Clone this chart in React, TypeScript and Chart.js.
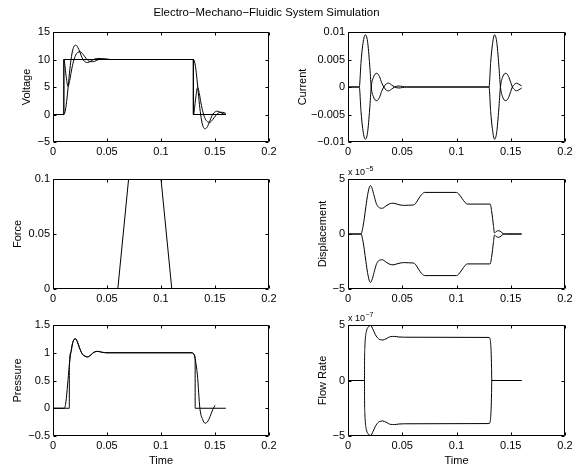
import React, { useEffect, useRef } from "react";
import { Chart, registerables } from "chart.js";

Chart.register(...registerables);

const FONT_FAMILY = '"Liberation Sans", Arial, Helvetica, sans-serif';

const figureTitle = "Electro\u2212Mechano\u2212Fluidic System Simulation";

// ---------- shared time axis ----------
const timeTicks = [0, 0.05, 0.1, 0.15, 0.2];
const timeTickLabels = ["0", "0.05", "0.1", "0.15", "0.2"];

// ---------- Voltage ----------
const voltageTicks = [-5, 0, 5, 10, 15];
const voltageTickLabels = ["\u22125", "0", "5", "10", "15"];
const voltageSourceT = [0, 0.01, 0.01, 0.13, 0.13, 0.16];
const voltageSource = [0, 0, 10, 10, 0, 0];
const voltageCapT = [0, 0.01, 0.0115, 0.013, 0.0145, 0.016, 0.0175, 0.019, 0.021, 0.023, 0.025, 0.027, 0.029, 0.032, 0.035, 0.038, 0.0425, 0.047, 0.052, 0.13, 0.1315, 0.133, 0.1345, 0.136, 0.1375, 0.139, 0.141, 0.143, 0.145, 0.147, 0.149, 0.152, 0.155, 0.158, 0.16];
const voltageCap = [0, 0, 0.8, 3.0, 6.0, 8.9, 11.0, 12.2, 12.6, 12.2, 11.3, 10.3, 9.7, 9.45, 9.7, 10.05, 10.2, 10.05, 10, 10, 9.2, 7.0, 4.0, 1.1, -1.0, -2.2, -2.6, -2.2, -1.3, -0.3, 0.3, 0.6, 0.4, 0.1, 0];
const voltageNodeT = [0, 0.01, 0.0101, 0.012, 0.0139, 0.0155, 0.017, 0.019, 0.021, 0.023, 0.0253, 0.028, 0.031, 0.034, 0.0368, 0.04, 0.044, 0.048, 0.053, 0.13, 0.1301, 0.132, 0.1339, 0.1355, 0.137, 0.139, 0.141, 0.143, 0.1453, 0.148, 0.151, 0.154, 0.1568, 0.16];
const voltageNode = [0, 0, 10, 7.2, 5.1, 6.2, 7.9, 9.7, 10.8, 11.3, 11.4, 10.9, 10.1, 9.65, 9.6, 9.8, 10.1, 10.12, 10, 10, 0, 2.8, 4.9, 3.8, 2.1, 0.3, -0.8, -1.3, -1.4, -0.9, -0.1, 0.35, 0.4, 0.2];

// ---------- Current ----------
const currentTicks = [-0.01, -0.005, 0, 0.005, 0.01];
const currentTickLabels = ["\u22120.01", "\u22120.005", "0", "0.005", "0.01"];
const currentT = [0, 0.0104, 0.012, 0.0135, 0.0159, 0.018, 0.02, 0.0214, 0.0235, 0.0265, 0.029, 0.031, 0.033, 0.0355, 0.0375, 0.04, 0.043, 0.047, 0.05, 0.054, 0.13, 0.1315, 0.133, 0.135, 0.137, 0.139, 0.1405, 0.1425, 0.1455, 0.148, 0.15, 0.1515, 0.1535, 0.1555, 0.1575, 0.16];
const currentUpper = [0, 0, 0.0045, 0.0075, 0.0095, 0.0083, 0.004, 0, -0.0018, -0.0025, -0.0019, -0.0008, 0, 0.0006, 0.0007, 0.0004, 0, -0.00018, -0.0001, 0, 0, 0.0045, 0.0075, 0.0095, 0.0083, 0.004, 0, -0.0018, -0.0025, -0.0019, -0.0008, 0, 0.0005, 0.0007, 0.0005, 0.0002];
const currentLower = [0, 0, -0.0045, -0.0075, -0.0095, -0.0083, -0.004, 0, 0.0018, 0.0025, 0.0019, 0.0008, 0, -0.0006, -0.0007, -0.0004, 0, 0.00018, 0.0001, 0, 0, -0.0045, -0.0075, -0.0095, -0.0083, -0.004, 0, 0.0018, 0.0025, 0.0019, 0.0008, 0, -0.0005, -0.0007, -0.0005, -0.0002];

// ---------- Force ----------
const forceTicks = [0, 0.05, 0.1];
const forceTickLabels = ["0", "0.05", "0.1"];
const forceT = [0, 0.06, 0.07, 0.1, 0.11, 0.16];
const force = [0, 0, 0.1, 0.1, 0, 0];

// ---------- Displacement (values in units of 1e-5) ----------
const displacementUnit = 1e-5;
const displacementTicks = [-5e-5, 0, 5e-5];
const displacementTickLabels = ["\u22125", "0", "5"];
const displacementT = [0, 0.012, 0.0135, 0.015, 0.0165, 0.018, 0.0195, 0.0206, 0.022, 0.024, 0.026, 0.028, 0.0316, 0.035, 0.0385, 0.0416, 0.045, 0.048, 0.052, 0.056, 0.0603, 0.0625, 0.065, 0.068, 0.0706, 0.1, 0.102, 0.105, 0.108, 0.11, 0.131, 0.1325, 0.134, 0.135, 0.137, 0.139, 0.141, 0.143, 0.146, 0.16];
const displacementUpper = [0, 0, 0.5, 1.4, 2.5, 3.5, 4.2, 4.4, 4.2, 3.5, 2.8, 2.45, 2.34, 2.55, 2.75, 2.8, 2.72, 2.64, 2.6, 2.62, 2.64, 2.8, 3.2, 3.6, 3.78, 3.78, 3.65, 3.25, 2.85, 2.72, 2.72, 2.0, 0.8, 0.1, 0.25, 0.3, 0.2, 0.03, 0, 0];
const displacementLower = [0, 0, -0.5, -1.4, -2.5, -3.5, -4.2, -4.4, -4.2, -3.5, -2.8, -2.45, -2.34, -2.55, -2.75, -2.8, -2.72, -2.64, -2.6, -2.62, -2.64, -2.8, -3.2, -3.6, -3.78, -3.78, -3.65, -3.25, -2.85, -2.72, -2.72, -2.0, -0.8, -0.1, -0.25, -0.3, -0.2, -0.03, 0, 0];

// ---------- Pressure ----------
const pressureTicks = [-0.5, 0, 0.5, 1, 1.5];
const pressureTickLabels = ["\u22120.5", "0", "0.5", "1", "1.5"];
const pressureT = [0, 0.0105, 0.012, 0.0135, 0.015, 0.0165, 0.018, 0.0195, 0.021, 0.0225, 0.0245, 0.027, 0.0295, 0.032, 0.035, 0.038, 0.0415, 0.045, 0.05, 0.129, 0.1305, 0.132, 0.1337, 0.136, 0.1385, 0.141, 0.1435, 0.146, 0.148, 0.15];
const pressure = [0, 0, 0.12, 0.42, 0.75, 1.0, 1.16, 1.24, 1.25, 1.2, 1.09, 0.98, 0.94, 0.925, 0.96, 1.01, 1.025, 1.01, 1.0, 1.0, 0.97, 0.85, 0.6, 0.0, -0.2, -0.27, -0.23, -0.12, -0.02, 0.05];
const pressureValveT = [0, 0.0151, 0.01515, 0.0165, 0.018, 0.0195, 0.021, 0.0225, 0.0245, 0.027, 0.0295, 0.032, 0.035, 0.038, 0.0415, 0.045, 0.05, 0.129, 0.1305, 0.1316, 0.13165, 0.16];
const pressureValve = [0, 0, 0.77, 1.0, 1.16, 1.24, 1.25, 1.2, 1.09, 0.98, 0.94, 0.925, 0.96, 1.01, 1.025, 1.01, 1.0, 1.0, 0.97, 0.9, 0, 0];

// ---------- Flow rate (values in units of 1e-7) ----------
const flowUnit = 1e-7;
const flowTicks = [-5e-7, 0, 5e-7];
const flowTickLabels = ["\u22125", "0", "5"];
const flowT = [0, 0.0152, 0.01525, 0.0155, 0.016, 0.017, 0.0185, 0.021, 0.023, 0.026, 0.029, 0.032, 0.035, 0.039, 0.043, 0.047, 0.052, 0.13, 0.1312, 0.1319, 0.1323, 0.1325, 0.16];
const flowUpper = [0, 0, 1.6, 2.9, 3.8, 4.45, 4.8, 4.95, 4.6, 4.0, 3.7, 3.65, 3.75, 3.95, 3.97, 3.92, 3.9, 3.88, 3.6, 2.6, 1.2, 0, 0];
const flowLower = [0, 0, -1.6, -2.9, -3.8, -4.45, -4.8, -4.95, -4.6, -4.0, -3.7, -3.65, -3.75, -3.95, -3.97, -3.92, -3.9, -3.88, -3.6, -2.6, -1.2, 0, 0];

type Series = { t: number[]; v: number[]; smooth: boolean; unit?: number };
type PanelSpec = {
  key: string;
  canvasX: number; canvasY: number; canvasW: number; canvasH: number;
  boxLeft: number; boxTop: number; boxRight: number; boxBottom: number;
  labelX: number;
  yLabel: string;
  yMin: number; yMax: number;
  yTicks: number[]; yTickLabels: string[];
  xTitle?: string;
  exponent?: string;
  series: Series[];
};

const LEFT_COL = { canvasX: 0, canvasW: 300, boxLeft: 53, boxRight: 269 };
const RIGHT_COL = { canvasX: 287, canvasW: 303, boxLeft: 348, boxRight: 565 };
const ROW1 = { canvasY: 0, canvasH: 172, boxTop: 32, boxBottom: 142 };
const ROW2 = { canvasY: 150, canvasH: 170, boxTop: 179, boxBottom: 289 };
const ROW3 = { canvasY: 295, canvasH: 170, boxTop: 325, boxBottom: 436 };

const panels: PanelSpec[] = [
  {
    key: "voltage", ...LEFT_COL, ...ROW1, labelX: 26.8, yLabel: "Voltage",
    yMin: -5, yMax: 15, yTicks: voltageTicks, yTickLabels: voltageTickLabels,
    series: [
      { t: voltageSourceT, v: voltageSource, smooth: false },
      { t: voltageCapT, v: voltageCap, smooth: true },
      { t: voltageNodeT, v: voltageNode, smooth: true },
    ],
  },
  {
    key: "current", ...RIGHT_COL, ...ROW1, labelX: 302.6, yLabel: "Current",
    yMin: -0.01, yMax: 0.01, yTicks: currentTicks, yTickLabels: currentTickLabels,
    series: [
      { t: currentT, v: currentUpper, smooth: true },
      { t: currentT, v: currentLower, smooth: true },
    ],
  },
  {
    key: "force", ...LEFT_COL, ...ROW2, labelX: 17.6, yLabel: "Force",
    yMin: 0, yMax: 0.1, yTicks: forceTicks, yTickLabels: forceTickLabels,
    series: [{ t: forceT, v: force, smooth: false }],
  },
  {
    key: "displacement", ...RIGHT_COL, ...ROW2, labelX: 323.4, yLabel: "Displacement",
    yMin: -5e-5, yMax: 5e-5, yTicks: displacementTicks, yTickLabels: displacementTickLabels,
    exponent: "\u22125",
    series: [
      { t: displacementT, v: displacementUpper, smooth: true, unit: displacementUnit },
      { t: displacementT, v: displacementLower, smooth: true, unit: displacementUnit },
    ],
  },
  {
    key: "pressure", ...LEFT_COL, ...ROW3, labelX: 17.6, yLabel: "Pressure", xTitle: "Time",
    yMin: -0.5, yMax: 1.5, yTicks: pressureTicks, yTickLabels: pressureTickLabels,
    series: [
      { t: pressureT, v: pressure, smooth: true },
      { t: pressureValveT, v: pressureValve, smooth: true },
    ],
  },
  {
    key: "flow", ...RIGHT_COL, ...ROW3, labelX: 323.4, yLabel: "Flow Rate", xTitle: "Time",
    yMin: -5e-7, yMax: 5e-7, yTicks: flowTicks, yTickLabels: flowTickLabels,
    exponent: "\u22127",
    series: [
      { t: flowT, v: flowUpper, smooth: true, unit: flowUnit },
      { t: flowT, v: flowLower, smooth: true, unit: flowUnit },
    ],
  },
];

const TICK_LEN = 3;

function Panel({ spec }: { spec: PanelSpec }) {
  const ref = useRef<HTMLCanvasElement | null>(null);

  useEffect(() => {
    const canvas = ref.current;
    if (!canvas) return;
    const padLeft = spec.labelX - 5.5 - spec.canvasX;
    const yWidth = spec.boxLeft - spec.canvasX - padLeft;
    const padTop = spec.boxTop - spec.canvasY;
    const padRight = spec.canvasX + spec.canvasW - spec.boxRight;
    const xHeight = spec.canvasY + spec.canvasH - spec.boxBottom;

    const framePlugin = {
      id: "matlabFrame",
      afterDatasetsDraw(chart: any) {
        const { ctx, chartArea, scales } = chart;
        const xs = scales.x;
        const ys = scales.y;
        const L = Math.round(chartArea.left) + 0.5;
        const R = Math.round(chartArea.right) - 0.5;
        const T = Math.round(chartArea.top) + 0.5;
        const B = Math.round(chartArea.bottom) - 0.5;
        ctx.save();
        ctx.strokeStyle = "#000";
        ctx.lineWidth = 1;
        ctx.beginPath();
        ctx.rect(L, T, R - L, B - T);
        for (const v of timeTicks) {
          const px = Math.round(xs.getPixelForValue(v)) + 0.5;
          ctx.moveTo(px, B);
          ctx.lineTo(px, B - TICK_LEN);
          ctx.moveTo(px, T);
          ctx.lineTo(px, T + TICK_LEN);
        }
        for (const v of spec.yTicks) {
          const py = Math.round(ys.getPixelForValue(v)) + 0.5;
          ctx.moveTo(L, py);
          ctx.lineTo(L + TICK_LEN, py);
          ctx.moveTo(R, py);
          ctx.lineTo(R - TICK_LEN, py);
        }
        ctx.stroke();
        if (spec.exponent) {
          ctx.fillStyle = "#000";
          ctx.textBaseline = "alphabetic";
          ctx.textAlign = "left";
          ctx.font = `9px ${FONT_FAMILY}`;
          const base = "x 10";
          const x0 = chartArea.left;
          const y0 = chartArea.top - 4;
          ctx.fillText(base, x0, y0);
          const w = ctx.measureText(base).width;
          ctx.font = `7px ${FONT_FAMILY}`;
          ctx.fillText(spec.exponent, x0 + w + 0.5, y0 - 4);
        }
        ctx.restore();
      },
    };

    const chart = new Chart(canvas, {
      type: "line",
      data: {
        datasets: spec.series.map((s) => ({
          data: s.t.map((t, i) => ({ x: t, y: s.v[i] * (s.unit ?? 1) })),
          borderColor: "#000",
          borderWidth: 1,
          pointRadius: 0,
          fill: false,
          tension: 0,
          cubicInterpolationMode: s.smooth ? "monotone" : "default",
        })),
      } as any,
      options: {
        responsive: false,
        animation: false,
        devicePixelRatio: 1,
        events: [],
        layout: {
          autoPadding: false,
          padding: { left: padLeft, top: padTop, right: padRight, bottom: 0 },
        },
        plugins: {
          legend: { display: false },
          tooltip: { enabled: false },
          title: { display: false },
        },
        scales: {
          x: {
            type: "linear",
            min: 0,
            max: 0.2,
            grid: { display: false, drawTicks: false, tickLength: 0 },
            border: { display: false },
            ticks: {
              padding: 3,
              autoSkip: false,
              maxRotation: 0,
              color: "#000",
              font: { size: 11, family: FONT_FAMILY },
              callback: (_v: any, i: number) => timeTickLabels[i],
            },
            afterBuildTicks: (s: any) => {
              s.ticks = timeTicks.map((v) => ({ value: v }));
            },
            afterFit: (s: any) => {
              s.height = xHeight;
              s.paddingLeft = 0;
              s.paddingRight = 0;
            },
            title: spec.xTitle
              ? {
                  display: true,
                  text: spec.xTitle,
                  padding: 0,
                  color: "#000",
                  font: { size: 11, family: FONT_FAMILY, lineHeight: 0.8 },
                }
              : { display: false },
          },
          y: {
            type: "linear",
            min: spec.yMin,
            max: spec.yMax,
            grid: { display: false, drawTicks: false, tickLength: 0 },
            border: { display: false },
            ticks: {
              padding: 3,
              autoSkip: false,
              color: "#000",
              font: { size: 11, family: FONT_FAMILY },
              callback: (_v: any, i: number) => spec.yTickLabels[i],
            },
            afterBuildTicks: (s: any) => {
              s.ticks = spec.yTicks.map((v) => ({ value: v }));
            },
            afterFit: (s: any) => {
              s.width = yWidth;
              s.paddingTop = 0;
              s.paddingBottom = 0;
            },
            title: {
              display: true,
              text: spec.yLabel,
              padding: 0,
              color: "#000",
              font: { size: 11, family: FONT_FAMILY, lineHeight: 1 },
            },
          },
        },
      } as any,
      plugins: [framePlugin as any],
    });
    return () => chart.destroy();
  }, [spec]);

  return (
    <canvas
      ref={ref}
      width={spec.canvasW}
      height={spec.canvasH}
      style={{
        position: "absolute",
        left: spec.canvasX,
        top: spec.canvasY,
        width: spec.canvasW,
        height: spec.canvasH,
      }}
    />
  );
}

export default function App() {
  return (
    <div
      style={{
        position: "fixed",
        left: 0,
        top: 0,
        width: 574,
        height: 465,
        overflow: "hidden",
        background: "#fff",
      }}
    >
      {panels.map((p) => (
        <Panel key={p.key} spec={p} />
      ))}
      <div
        style={{
          position: "absolute",
          left: 0,
          top: 6.5,
          width: 533,
          textAlign: "center",
          fontFamily: FONT_FAMILY,
          fontSize: 11.4,
          lineHeight: "11.4px",
          color: "#000",
          whiteSpace: "nowrap",
        }}
      >
        {figureTitle}
      </div>
    </div>
  );
}
